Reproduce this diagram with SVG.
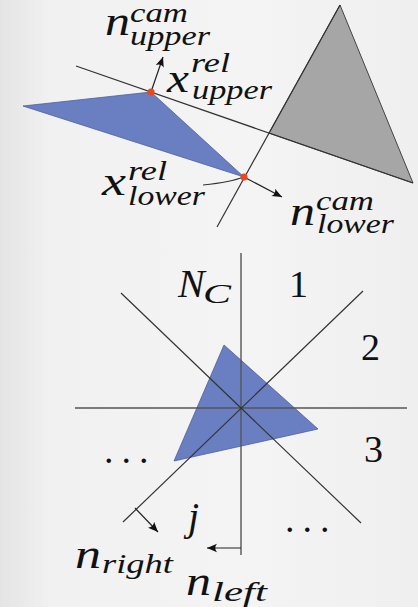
<svg xmlns="http://www.w3.org/2000/svg" width="418" height="607" viewBox="0 0 418 607">
<defs>
<linearGradient id="bg" x1="0" y1="0" x2="1" y2="0">
<stop offset="0" stop-color="#e4e4e4"/>
<stop offset="0.12" stop-color="#f1f1f1"/>
<stop offset="0.6" stop-color="#f4f4f4"/>
<stop offset="1" stop-color="#efefef"/>
</linearGradient>
<marker id="arr" viewBox="-10 -5 11 10" refX="0" refY="0" markerWidth="11" markerHeight="10" markerUnits="userSpaceOnUse" orient="auto">
<path d="M0,0 L-10,-4.2 Q-6.5,0 -10,4.2 Z" fill="#111"/>
</marker>
</defs>
<style>
.ln{stroke:#333;stroke-width:1.2;fill:none}
.ax{stroke:#555;stroke-width:1.4;fill:none}
.ar{stroke:#222;stroke-width:1.2;fill:none;marker-end:url(#arr)}
.blue{fill:#6a7ec2;stroke:#4d5f9c;stroke-width:0.8}
.gray{fill:#a6a6a6;stroke:#444;stroke-width:1}
.dot{fill:#e84a1f}
.m{font-style:italic;font-size:40px;fill:#111}
.s{font-style:italic;font-size:27px;fill:#111}
.d{font-size:38px;fill:#111}
</style>
<rect width="418" height="607" fill="url(#bg)"/>

<g id="gray-triangle"><polygon class="gray" points="340,5 413,183 269,133"/></g>
<g id="blue-triangle-top"><polygon class="blue" points="23,106 151,92 244,177"/></g>
<g id="blue-triangle-bottom"><polygon class="blue" points="224,345 318,429 174,461"/></g>

<g id="connectors">
<line class="ln" x1="76" y1="66" x2="413" y2="183"/>
<line class="ln" x1="340" y1="5" x2="217" y2="227"/>
<path class="ln" d="M203,185 Q232,182 243,177"/>
<line class="ar" x1="151" y1="92" x2="163" y2="57"/>
<line class="ar" x1="244" y1="177" x2="282" y2="197"/>
<line class="ax" x1="241" y1="253" x2="241" y2="555"/>
<line class="ax" x1="75" y1="408" x2="407" y2="408"/>
<line class="ln" x1="121" y1="293" x2="361" y2="523"/>
<line class="ln" x1="363" y1="291" x2="123" y2="522"/>
<line class="ar" x1="135" y1="508" x2="158" y2="532"/>
<line class="ar" x1="241" y1="548" x2="207" y2="548"/>
</g>

<g id="points">
<circle class="dot" cx="151" cy="92" r="3.6"/>
<circle class="dot" cx="244" cy="177" r="3.6"/>
</g>

<g font-family="'Liberation Serif', 'DejaVu Serif', serif">
<g id="label-n-upper">
<text class="m" x="105" y="35" textLength="25" lengthAdjust="spacingAndGlyphs">n</text>
<text class="s" x="130" y="22" textLength="58" lengthAdjust="spacingAndGlyphs">cam</text>
<text class="s" x="130" y="45" textLength="80" lengthAdjust="spacingAndGlyphs">upper</text>
</g>
<g id="label-x-upper">
<text class="m" x="167" y="92" textLength="22" lengthAdjust="spacingAndGlyphs">x</text>
<text class="s" x="191" y="72" textLength="39" lengthAdjust="spacingAndGlyphs">rel</text>
<text class="s" x="192" y="99" textLength="80" lengthAdjust="spacingAndGlyphs">upper</text>
</g>
<g id="label-x-lower">
<text class="m" x="102" y="195" textLength="24" lengthAdjust="spacingAndGlyphs">x</text>
<text class="s" x="128" y="180" textLength="39" lengthAdjust="spacingAndGlyphs">rel</text>
<text class="s" x="128" y="205" textLength="77" lengthAdjust="spacingAndGlyphs">lower</text>
</g>
<g id="label-n-lower">
<text class="m" x="290" y="225" textLength="25" lengthAdjust="spacingAndGlyphs">n</text>
<text class="s" x="316" y="210" textLength="58" lengthAdjust="spacingAndGlyphs">cam</text>
<text class="s" x="317" y="233" textLength="77" lengthAdjust="spacingAndGlyphs">lower</text>
</g>
<g id="label-NC">
<text class="m" x="178" y="297">N</text>
<text class="s" x="203" y="303" textLength="28" lengthAdjust="spacingAndGlyphs">C</text>
</g>
<g id="label-1"><text class="d" x="289" y="297">1</text></g>
<g id="label-2"><text class="d" x="361" y="360">2</text></g>
<g id="label-3"><text class="d" x="364" y="462">3</text></g>
<g id="label-dots-left"><text class="d" x="104" y="463" letter-spacing="8">...</text></g>
<g id="label-dots-right"><text class="d" x="285" y="532" letter-spacing="8">...</text></g>
<g id="label-j"><text class="m" x="188" y="530">j</text></g>
<g id="label-n-right">
<text class="m" x="75" y="568" textLength="26" lengthAdjust="spacingAndGlyphs">n</text>
<text class="s" x="102" y="573" textLength="71" lengthAdjust="spacingAndGlyphs">right</text>
</g>
<g id="label-n-left">
<text class="m" x="186" y="595" textLength="25" lengthAdjust="spacingAndGlyphs">n</text>
<text class="s" x="212" y="601" textLength="55" lengthAdjust="spacingAndGlyphs">left</text>
</g>
</g>
</svg>
